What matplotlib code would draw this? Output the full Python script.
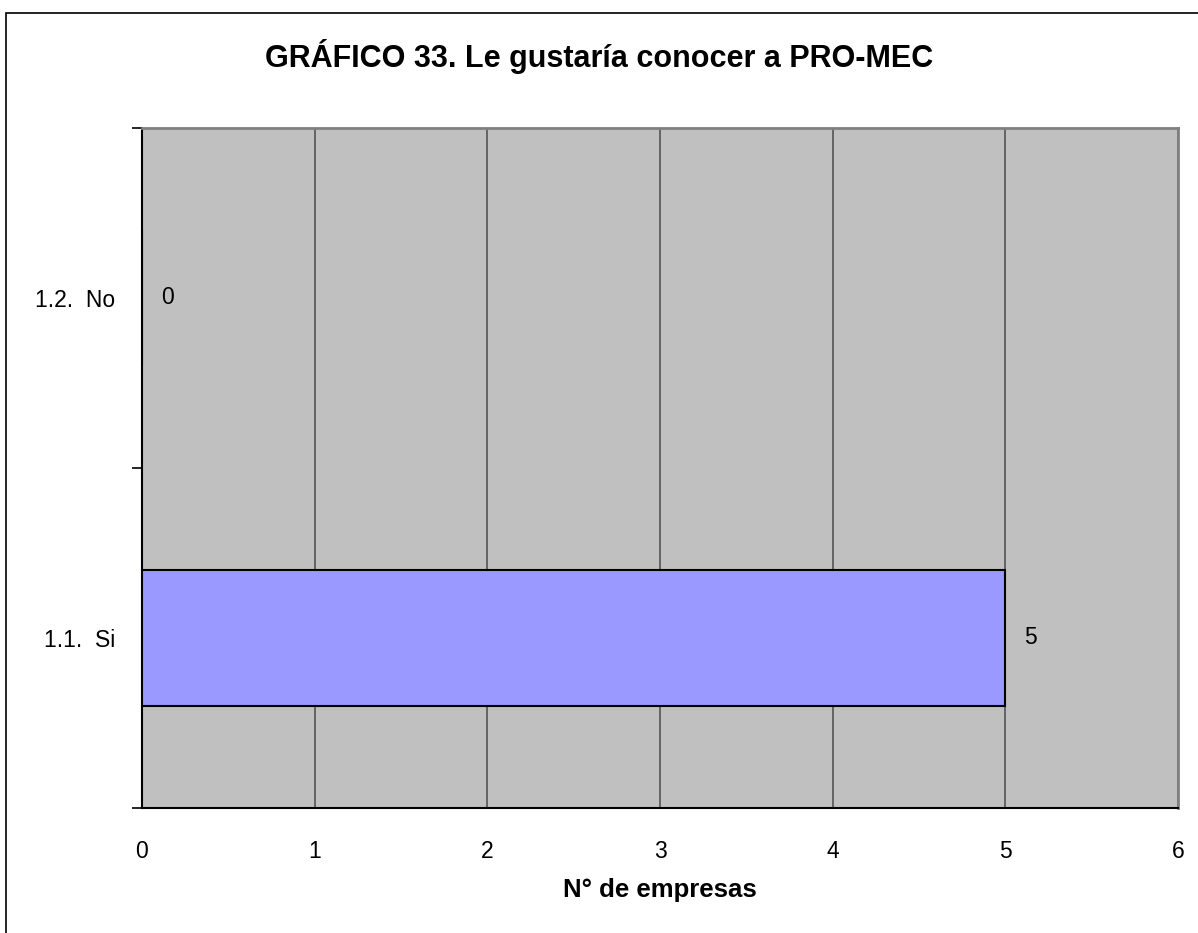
import matplotlib
matplotlib.use('Agg')
import matplotlib.pyplot as plt
from matplotlib.patches import Rectangle

categorias = ['1.1.  Si', '1.2.  No']
valores = [5, 0]
titulo = 'GRÁFICO 33. Le gustaría conocer a PRO-MEC'

plt.rcParams['font.family'] = ['Liberation Sans', 'DejaVu Sans']

fig = plt.figure(figsize=(11.98, 9.33), dpi=100)
ax = fig.add_axes([142 / 1198, 125 / 933, 1036 / 1198, 680 / 933])
ax.set_facecolor('#C0C0C0')

# Borde de la figura
fig.patches.append(Rectangle((6 / 1198, -0.1), 1.2, 1 - 13 / 933 + 0.1,
                             transform=fig.transFigure, fill=False,
                             edgecolor='black', linewidth=1.2))

pos = list(range(len(categorias)))
ax.barh(pos, valores, height=0.4, color='#9999FF', edgecolor='black',
        linewidth=1.5, zorder=3)

for p, v in zip(pos, valores):
    ax.text(v + 0.11, p, f"{v}", va='center', ha='left', fontsize=16.5, zorder=4)

ax.set_xlim(0, 6)
ax.set_ylim(-0.5, 1.5)
ax.set_xticks(range(0, 7))
ax.tick_params(axis='x', length=0, labelsize=16.5, pad=23)
ax.xaxis.grid(True, color='#555555', linewidth=1.2, zorder=1)
ax.set_axisbelow(True)

# Marcas del eje y en los límites de las categorías
ax.set_yticks([-0.5, 0.5, 1.5])
ax.set_yticklabels([])
ax.set_yticks(pos, minor=True)
ax.set_yticklabels(categorias, minor=True, fontsize=16.5)
ax.tick_params(axis='y', which='major', length=7, width=1.2, direction='out')
ax.tick_params(axis='y', which='minor', length=0, pad=19)

for lado in ['top', 'right']:
    ax.spines[lado].set_color('#808080')
    ax.spines[lado].set_linewidth(2)
for lado in ['left', 'bottom']:
    ax.spines[lado].set_color('black')
    ax.spines[lado].set_linewidth(1.5)

ax.set_xlabel('N° de empresas', fontsize=18.5, fontweight='bold', labelpad=11)
fig.text(0.5, 1 - 57 / 933, titulo, ha='center', va='center',
         fontsize=22, fontweight='bold')

fig.savefig('out.png', dpi=100, facecolor='white')
